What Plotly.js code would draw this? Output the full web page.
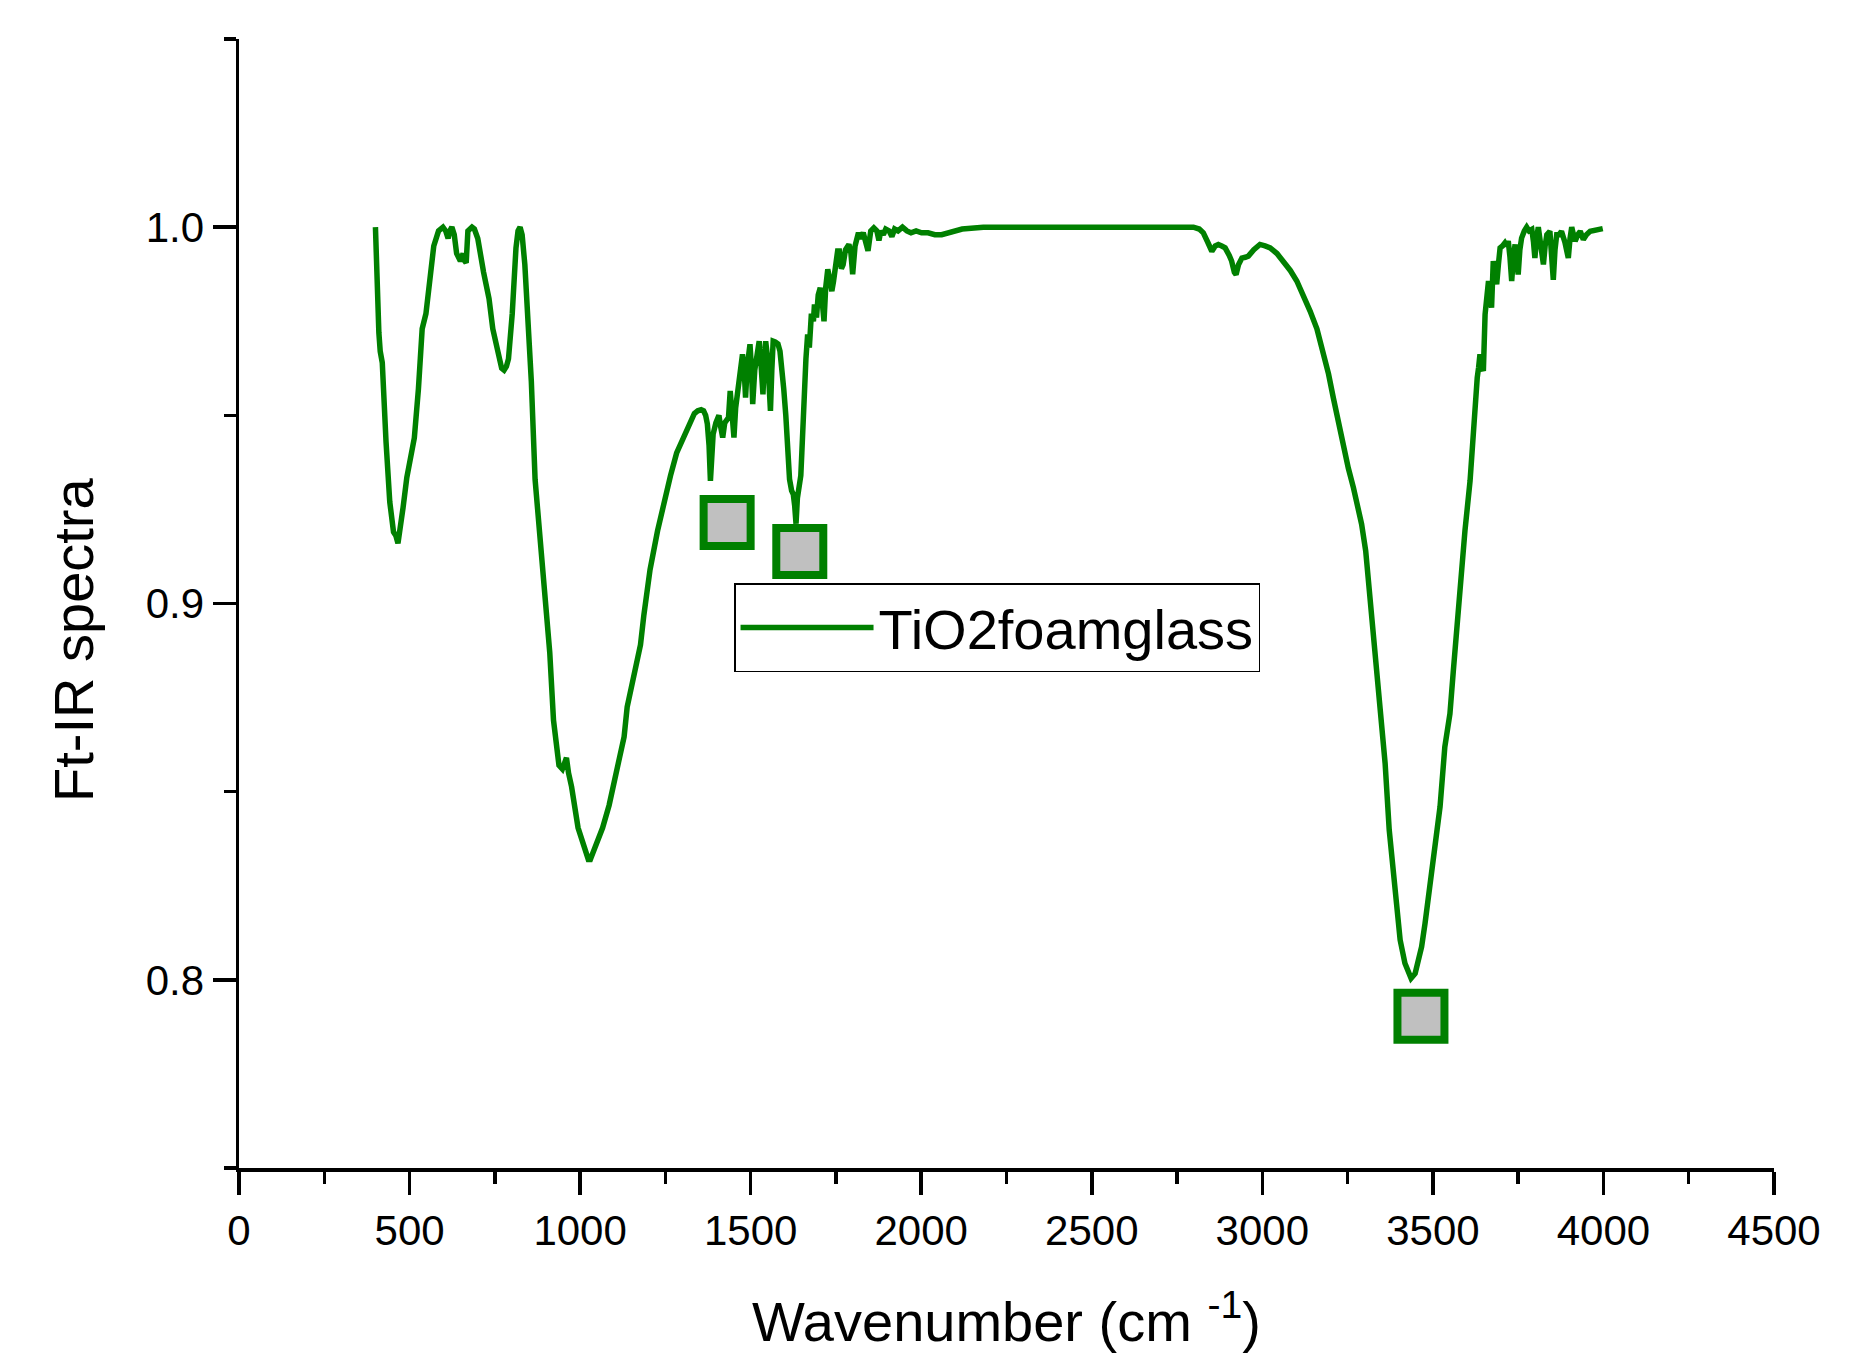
<!DOCTYPE html>
<html>
<head>
<meta charset="utf-8">
<script src="https://cdn.plot.ly/plotly-3.0.1.min.js"></script>
<style>
html, body { margin: 0; padding: 0; background: #ffffff; }
#chart { width: 1874px; height: 1364px; }
</style>
</head>
<body>
<div id="chart"></div>
<script>
// ---- Data ----
const seriesName = 'TiO2foamglass';

const wavenumber = [
  400, 404, 410, 414, 420, 431, 442, 453, 460, 466, 472, 481, 492, 503, 514, 526, 537, 548, 560, 571,
  585, 598, 606, 613, 618, 624, 631, 638, 649, 654, 657, 662, 666, 671, 683, 690, 700, 717, 733, 744,
  762, 770, 777, 784, 790, 801, 812, 818, 824, 830, 838, 846, 857, 868, 880, 896, 911, 922, 938, 948,
  955, 960, 966, 975, 994, 1007, 1018, 1024, 1030, 1040, 1052, 1066, 1085, 1100, 1112, 1129, 1138, 1150, 1164, 1177,
  1187, 1205, 1227, 1249, 1265, 1283, 1306, 1322, 1335, 1345, 1355, 1362, 1368, 1373, 1378, 1382, 1386, 1390, 1398, 1404,
  1407, 1412, 1418, 1424, 1430, 1435, 1440, 1445, 1451, 1456, 1462, 1468, 1476, 1481, 1485, 1490, 1498, 1502, 1506, 1512,
  1518, 1525, 1530, 1536, 1540, 1544, 1550, 1555, 1558, 1562, 1566, 1572, 1580, 1586, 1592, 1597, 1603, 1608, 1614, 1620,
  1625, 1629, 1633, 1637, 1640, 1644, 1647, 1650, 1656, 1662, 1667, 1672, 1678, 1684, 1687, 1693, 1698, 1704, 1710, 1715,
  1720, 1726, 1732, 1738, 1743, 1750, 1755, 1760, 1766, 1771, 1778, 1788, 1794, 1799, 1806, 1816, 1822, 1830, 1837, 1844,
  1852, 1861, 1870, 1876, 1882, 1889, 1896, 1906, 1914, 1922, 1932, 1945, 1958, 1970, 1985, 2001, 2020, 2040, 2060, 2085,
  2120, 2182, 2300, 2400, 2500, 2600, 2700, 2798, 2815, 2827, 2840, 2852, 2862, 2871, 2881, 2891, 2903, 2910, 2918, 2923,
  2930, 2940, 2950, 2959, 2975, 2993, 3008, 3023, 3043, 3062, 3082, 3101, 3120, 3140, 3160, 3179, 3194, 3208, 3223, 3238,
  3252, 3267, 3280, 3291, 3303, 3311, 3323, 3335, 3345, 3360, 3372, 3389, 3404, 3418, 3428, 3436, 3448, 3457, 3467, 3477,
  3487, 3497, 3506, 3521, 3535, 3550, 3560, 3570, 3579, 3594, 3609, 3619, 3624, 3630, 3634, 3638, 3643, 3648, 3653, 3658,
  3663, 3668, 3672, 3677, 3682, 3687, 3692, 3697, 3704, 3711, 3716, 3721, 3726, 3731, 3736, 3741, 3746, 3750, 3755, 3760,
  3768, 3775, 3782, 3790, 3795, 3799, 3804, 3809, 3815, 3824, 3829, 3834, 3843, 3848, 3853, 3858, 3863, 3870, 3877, 3887,
  3897, 3902, 3907, 3912, 3917, 3925, 3932, 3941, 3950, 3961, 3971, 3981, 3998
];

const transmittance = [
  1.000, 0.986, 0.972, 0.967, 0.964, 0.943, 0.927, 0.919, 0.918, 0.916, 0.919, 0.9255, 0.9335, 0.939, 0.944, 0.957, 0.973, 0.977, 0.986, 0.995,
  0.999, 1.000, 0.999, 0.997, 0.999, 1.000, 0.998, 0.993, 0.991, 0.992, 0.993, 0.991, 0.9905, 0.999, 1.000, 0.9995, 0.997, 0.988, 0.981, 0.973,
  0.965, 0.9625, 0.962, 0.963, 0.965, 0.977, 0.9945, 0.999, 1.000, 0.998, 0.990, 0.977, 0.959, 0.933, 0.919, 0.902, 0.887, 0.869, 0.857, 0.856,
  0.8585, 0.859, 0.855, 0.8513, 0.8404, 0.8368, 0.833, 0.832, 0.832, 0.8344, 0.8375, 0.8404, 0.8464, 0.853, 0.8586, 0.8646, 0.8725, 0.878, 0.8827, 0.889,
  0.897, 0.909, 0.9193, 0.9283, 0.934, 0.940, 0.945, 0.9485, 0.9505, 0.9512, 0.9515, 0.9512, 0.950, 0.9477, 0.942, 0.9326, 0.940, 0.945, 0.948, 0.949,
  0.950, 0.947, 0.9441, 0.948, 0.9485, 0.9494, 0.9565, 0.950, 0.9441, 0.952, 0.956, 0.960, 0.9662, 0.962, 0.9547, 0.963, 0.9689, 0.963, 0.953, 0.962,
  0.966, 0.9697, 0.964, 0.9556, 0.964, 0.9697, 0.965, 0.958, 0.9512, 0.962, 0.9697, 0.9695, 0.969, 0.967, 0.963, 0.957, 0.950, 0.940, 0.933, 0.930,
  0.929, 0.926, 0.9212, 0.928, 0.930, 0.932, 0.934, 0.940, 0.9556, 0.965, 0.9715, 0.968, 0.977, 0.975, 0.9795, 0.976, 0.982, 0.9839, 0.980, 0.975,
  0.984, 0.9888, 0.986, 0.983, 0.9857, 0.991, 0.9937, 0.9937, 0.989, 0.990, 0.994, 0.9954, 0.993, 0.9875, 0.995, 0.9985, 0.997, 0.9985, 0.996, 0.9937,
  0.999, 0.9998, 0.999, 0.9965, 0.999, 0.998, 0.9995, 0.999, 0.9975, 0.9995, 0.999, 1.000, 0.999, 0.9985, 0.999, 0.9985, 0.9985, 0.998, 0.998, 0.9985,
  0.9995, 1.000, 1.000, 1.000, 1.000, 1.000, 1.000, 1.000, 0.9995, 0.9985, 0.996, 0.9936, 0.995, 0.9954, 0.995, 0.9945, 0.9925, 0.991, 0.988, 0.9874,
  0.990, 0.9918, 0.992, 0.9923, 0.994, 0.9954, 0.995, 0.9945, 0.993, 0.991, 0.9885, 0.9857, 0.982, 0.9777, 0.973, 0.967, 0.961, 0.9547, 0.948, 0.9414,
  0.936, 0.9308, 0.926, 0.9211, 0.914, 0.906, 0.8972, 0.885, 0.8751, 0.8575, 0.8398, 0.8221, 0.8106, 0.8044, 0.802, 0.8004, 0.8017, 0.805, 0.8088, 0.815,
  0.8221, 0.829, 0.8353, 0.846, 0.8619, 0.8707, 0.8822, 0.8928, 0.906, 0.9193, 0.9326, 0.945, 0.9556, 0.960, 0.9627, 0.9662, 0.963, 0.9618, 0.9768, 0.980,
  0.9857, 0.982, 0.9786, 0.991, 0.988, 0.9848, 0.990, 0.9945, 0.995, 0.9958, 0.995, 0.9963, 0.992, 0.9857, 0.992, 0.9954, 0.991, 0.9874, 0.994, 0.9971,
  0.999, 1.000, 0.999, 0.9994, 0.996, 0.9918, 0.997, 1.000, 0.996, 0.9901, 0.995, 0.998, 0.9989, 0.993, 0.986, 0.994, 0.998, 0.998, 0.9989, 0.996,
  0.9918, 0.997, 1.000, 0.998, 0.9963, 0.998, 0.9989, 0.9967, 0.998, 0.9989, 0.999, 0.9994, 0.9996
];

// Marked band positions (square markers)
const markerWavenumber = [1431, 1644, 3465];
const markerValue = [0.9215, 0.9138, 0.7903];

// Axis ticks
const xTickValues = [0, 500, 1000, 1500, 2000, 2500, 3000, 3500, 4000, 4500];
const xTickLabels = ['0', '500', '1000', '1500', '2000', '2500', '3000', '3500', '4000', '4500'];
const yTickValues = [0.8, 0.9, 1.0];
const yTickLabels = ['0.8', '0.9', '1.0'];

// Titles
const xTitle = 'Wavenumber (cm <sup>-1</sup>)';
const yTitle = 'Ft-IR spectra';

// ---- Chart ----
const GREEN = '#008000';
const FONT = "'Liberation Sans', Arial, Helvetica, sans-serif";

const spectrum = {
  x: wavenumber,
  y: transmittance,
  type: 'scatter',
  mode: 'lines',
  name: seriesName,
  line: { color: GREEN, width: 5.5 },
  showlegend: true
};

const marks = {
  x: markerWavenumber,
  y: markerValue,
  type: 'scatter',
  mode: 'markers',
  name: 'bands',
  marker: { symbol: 'square', size: 47, color: '#c0c0c0', line: { color: GREEN, width: 8 } },
  showlegend: false
};

const axisCommon = {
  showline: true,
  linecolor: '#000000',
  linewidth: 3.5,
  ticks: 'outside',
  ticklen: 23,
  tickwidth: 3.5,
  tickcolor: '#000000',
  showgrid: false,
  zeroline: false,
  mirror: false,
  tickfont: { family: FONT, size: 42, color: '#000000' }
};

const layout = {
  width: 1874,
  height: 1364,
  paper_bgcolor: '#ffffff',
  plot_bgcolor: '#ffffff',
  margin: { l: 239, r: 100, t: 39, b: 196, pad: 0 },
  font: { family: FONT, color: '#000000' },
  showlegend: true,
  legend: {
    x: 0.3225, y: 0.518, xanchor: 'left', yanchor: 'top',
    bgcolor: '#ffffff', bordercolor: '#000000', borderwidth: 1.5,
    font: { family: FONT, size: 56, color: '#000000' },
    itemwidth: 133,
    tracegroupgap: 0
  },
  xaxis: Object.assign({}, axisCommon, {
    range: [0, 4500],
    tickmode: 'array',
    tickvals: xTickValues,
    ticktext: xTickLabels,
    minor: { dtick: 250, tick0: 0, ticks: 'outside', ticklen: 12, tickwidth: 3.5, tickcolor: '#000000', showgrid: false },
    title: { text: xTitle, font: { family: FONT, size: 56, color: '#000000' }, standoff: 50 }
  }),
  yaxis: Object.assign({}, axisCommon, {
    range: [0.75, 1.05],
    tickmode: 'array',
    tickvals: yTickValues,
    ticktext: yTickLabels,
    minor: { dtick: 0.05, tick0: 0.75, ticks: 'outside', ticklen: 12, tickwidth: 3.5, tickcolor: '#000000', showgrid: false }
  }),
  annotations: [{
    text: yTitle,
    xref: 'paper', yref: 'paper',
    x: -0.1075, y: 0.4677,
    xanchor: 'center', yanchor: 'middle',
    textangle: -90,
    showarrow: false,
    font: { family: FONT, size: 56, color: '#000000' }
  }]
};

Plotly.newPlot('chart', [spectrum, marks], layout, { displayModeBar: false, staticPlot: true });
</script>
</body>
</html>
